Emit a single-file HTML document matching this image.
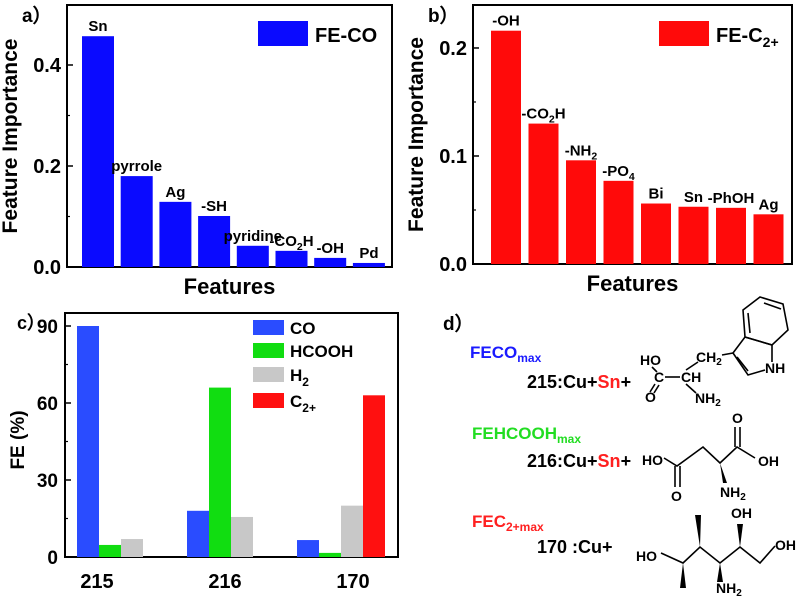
<!DOCTYPE html>
<html><head><meta charset="utf-8">
<style>
html,body{margin:0;padding:0;background:#fff}
svg{display:block;font-family:"Liberation Sans",Arial,sans-serif;font-weight:bold}
</style></head>
<body>
<svg id="fig" width="800" height="596" viewBox="0 0 800 596" xmlns="http://www.w3.org/2000/svg">
<g id="pa"></g>
<g id="pb"></g>
<g id="pc"></g>
<g id="pd" fill="#000" stroke="none">
  <text x="443" y="330" font-size="19">d）</text>
  <text x="470" y="358" font-size="17" fill="#1a1aff">FECO<tspan font-size="12" dy="4">max</tspan></text>
  <text x="527" y="388" font-size="18">215:Cu+<tspan fill="#ff2020">Sn</tspan>+</text>
  <text x="472" y="439" font-size="17" fill="#22dd22">FEHCOOH<tspan font-size="12" dy="4">max</tspan></text>
  <text x="527" y="467" font-size="18">216:Cu+<tspan fill="#ff2020">Sn</tspan>+</text>
  <text x="472" y="527" font-size="17" fill="#ff2020">FEC<tspan font-size="12" dy="4">2+max</tspan></text>
  <text x="537" y="553" font-size="18">170 :Cu+</text>
  <g font-size="14">
    <text x="640" y="365">HO</text>
    <text x="654" y="382">C</text>
    <text x="681" y="382">CH</text>
    <text x="645" y="402">O</text>
    <text x="696" y="362">CH<tspan font-size="10" dy="3">2</tspan></text>
    <text x="695" y="403">NH<tspan font-size="10" dy="3">2</tspan></text>
    <text x="765" y="373">NH</text>
    <g stroke="#000" stroke-width="1.6" fill="none">
      <line x1="652" y1="367" x2="657" y2="372"/>
      <line x1="665" y1="377" x2="680" y2="377"/>
      <line x1="655" y1="384" x2="650" y2="392"/><line x1="659" y1="385" x2="654" y2="393"/>
      <line x1="686" y1="370" x2="698" y2="362"/>
      <line x1="686" y1="384" x2="696" y2="393"/>
      <line x1="722" y1="355" x2="733" y2="353"/>
      <polyline points="733,353 745,337 772,345 772,362"/>
      <polyline points="765,370 748,375 733,353"/>
      <line x1="737" y1="357" x2="748" y2="371"/>
      <polygon points="745,337 743,310 760,297 783,304 788,330 772,345"/>
      <line x1="748" y1="313" x2="750" y2="333"/>
      <line x1="764" y1="303" x2="781" y2="309"/>
    </g>
  </g>
  <g font-size="14">
    <text x="642" y="465">HO</text>
    <text x="671" y="501">O</text>
    <text x="720" y="497">NH<tspan font-size="10" dy="3">2</tspan></text>
    <text x="732" y="423">O</text>
    <text x="758" y="466">OH</text>
    <g stroke="#000" stroke-width="1.6" fill="none">
      <polyline points="664,458 677,466 703,447 720,463 737,447 755,458"/>
      <line x1="675" y1="466" x2="675" y2="487"/><line x1="680" y1="466" x2="680" y2="487"/>
      <line x1="735" y1="447" x2="735" y2="427"/><line x1="740" y1="447" x2="740" y2="427"/>
    </g>
    <polygon points="720,463 723,483 727,483"/>
  </g>
  <g font-size="14">
    <text x="636" y="561">HO</text>
    <text x="716" y="593">NH<tspan font-size="10" dy="3">2</tspan></text>
    <text x="731" y="518">OH</text>
    <text x="775" y="550">OH</text>
    <g stroke="#000" stroke-width="1.6" fill="none">
      <polyline points="661,553 683,563 700,547 720,563 740,547 760,563 775,546"/>
    </g>
    <polygon points="683,563 680,588 686,588"/>
    <polygon points="700,547 695,515 701,515"/>
    <polygon points="720,563 717,582 723,582"/>
    <polygon points="740,547 737,524 743,524"/>
  </g>
</g>
</svg>
<script>
const NS="http://www.w3.org/2000/svg";
function mk(parent,tag,attrs,txt){const e=document.createElementNS(NS,tag);for(const k in attrs)e.setAttribute(k,attrs[k]);if(txt!==undefined)e.textContent=txt;parent.appendChild(e);return e;}

// ---- Panel a data ----
const aCategories=["Sn","pyrrole","Ag","-SH","pyridine","-CO2H","-OH","Pd"];
const aValues=[0.457,0.180,0.129,0.101,0.042,0.032,0.018,0.008];
const aTicks=[0.0,0.2,0.4];
// ---- Panel b data ----
const bCategories=["-OH","-CO2H","-NH2","-PO4","Bi","Sn","-PhOH","Ag"];
const bValues=[0.216,0.130,0.096,0.077,0.056,0.053,0.052,0.046];
const bTicks=[0.0,0.1,0.2];
// ---- Panel c data ----
const cGroups=["215","216","170"];
const cSeries=["CO","HCOOH","H2","C2+"];
const cCO=[90,18,6.6];
const cHCOOH=[4.7,66,1.6];
const cH2=[7,15.6,20];
const cC2=[0,0,63];
const cTicks=[0,30,60,90];

function labelWithSub(g,x,y,label,size){
  const t=mk(g,'text',{x:x,y:y,'font-size':size,'text-anchor':'middle'});
  if(label==="-CO2H"||label==="-NH2"||label==="-PO4"){
    const p=label.match(/^(-[A-Z]+?)(\d)(.*)$/);
    t.appendChild(document.createTextNode(p[1]));
    mk(t,'tspan',{'font-size':size*0.7,dy:4},p[2]);
    if(p[3]){mk(t,'tspan',{dy:-4},p[3]);}
  } else t.textContent=label;
  return t;
}

function featurePanel(g,cats,vals,ticks,o){
  const y=v=>o.bottom-(v-o.vmin)/(o.vmax-o.vmin)*(o.bottom-o.top);
  const frame=mk(g,'rect',{x:o.left,y:o.top,width:o.right-o.left,height:o.bottom-o.top,fill:'none',stroke:'#000','stroke-width':2});
  
  
  cats.forEach((c,i)=>{
    const x0=o.barStart+i*o.step;
    const r=mk(g,'rect',{x:x0,y:y(vals[i]),width:o.bw,height:o.bottom-y(vals[i]),fill:o.color});
    
    
    const t=labelWithSub(g,x0+o.bw/2,y(vals[i])-5,c,15);
    
    
  });
  ticks.forEach(v=>{
    mk(g,'line',{x1:o.left,x2:o.left+6,y1:y(v),y2:y(v),stroke:'#000','stroke-width':1.5});
    const t=mk(g,'text',{x:o.left-6,y:y(v)+7,'font-size':20,'text-anchor':'end'},v.toFixed(1));
    
    
  });
  for(let k=0;k<ticks.length-1;k++){const v=(ticks[k]+ticks[k+1])/2;mk(g,'line',{x1:o.left,x2:o.left+3,y1:y(v),y2:y(v),stroke:'#000','stroke-width':1.2});}
  const yl=mk(g,'text',{x:0,y:0,'font-size':21,'text-anchor':'middle',transform:`translate(${o.left-50},${(o.top+o.bottom)/2}) rotate(-90)`},'Feature Importance');
  
  
  const xl=mk(g,'text',{x:(o.left+o.right)/2,y:o.bottom+27,'font-size':22,'text-anchor':'middle'},'Features');
  
  
  const lr=mk(g,'rect',{x:o.legX,y:21,width:50,height:25,fill:o.color});
  
  
  const lt=mk(g,'text',{x:o.legX+57,y:42,'font-size':20});
  
  
  if(o.legSub){lt.appendChild(document.createTextNode(o.legText));mk(lt,'tspan',{'font-size':14,dy:5},o.legSub);}
  else lt.textContent=o.legText;
  const pl=mk(g,'text',{x:o.left-45,y:22,'font-size':19},o.panel);
  
  
}

featurePanel(document.getElementById('pa'),aCategories,aValues,aTicks,{left:67,right:392,top:5,bottom:267,vmin:0,vmax:0.5188,barStart:82,step:38.7,bw:32,color:'#0a0aff',legX:258,legText:'FE-CO',panel:'a）'});
featurePanel(document.getElementById('pb'),bCategories,bValues,bTicks,{left:473,right:792,top:5,bottom:264,vmin:0,vmax:0.2398,barStart:491,step:37.5,bw:30,color:'#ff0a0a',legX:659,legText:'FE-C',legSub:'2+',panel:'b）'});

// ---- Panel c ----
(function(){
  const g=document.getElementById('pc');
  const L=65,R=398,T=313,B=557;
  const y=v=>B-v/30*77;
  const colors=['#2a4cff','#11dd11','#c8c8c8','#ff1010'];
  const series=[cCO,cHCOOH,cH2,cC2];
  const frame=mk(g,'rect',{x:L,y:T,width:R-L,height:B-T,fill:'none',stroke:'#000','stroke-width':2});
  
  
  cGroups.forEach((grp,gi)=>{
    const gx=77+gi*110;
    series.forEach((s,si)=>{
      if(s[gi]<=0)return;
      const r=mk(g,'rect',{x:gx+si*22,y:y(s[gi]),width:22,height:B-y(s[gi]),fill:colors[si]});
      
      
    });
    const t=mk(g,'text',{x:97+gi*128,y:B+31,'font-size':20,'text-anchor':'middle'},grp);
    
    
  });
  cTicks.forEach(v=>{
    mk(g,'line',{x1:L,x2:L+6,y1:y(v),y2:y(v),stroke:'#000','stroke-width':1.5});
    const t=mk(g,'text',{x:L-7,y:y(v)+7,'font-size':19,'text-anchor':'end'},String(v));
    
    
  });
  for(let k=0;k<cTicks.length-1;k++){const v=(cTicks[k]+cTicks[k+1])/2;mk(g,'line',{x1:L,x2:L+3,y1:y(v),y2:y(v),stroke:'#000','stroke-width':1.2});}
  const yl=mk(g,'text',{x:0,y:0,'font-size':19,'text-anchor':'middle',transform:`translate(24,440) rotate(-90)`},'FE (%)');
  
  
  const pl=mk(g,'text',{x:17,y:329,'font-size':18},'c）');
  
  
  const ly=[320,343,367,393];
  cSeries.forEach((s,i)=>{
    const r=mk(g,'rect',{x:253,y:ly[i],width:31,height:15,fill:colors[i]});
    
    
    const t=mk(g,'text',{x:290,y:ly[i]+14,'font-size':17});
    
    
    const m=s.match(/^([A-Z]+)(2\+?)$/);
    if(m){t.appendChild(document.createTextNode(m[1]));mk(t,'tspan',{'font-size':12,dy:5},m[2]);}
    else t.textContent=s;
  });
})();
</script>
</body></html>
